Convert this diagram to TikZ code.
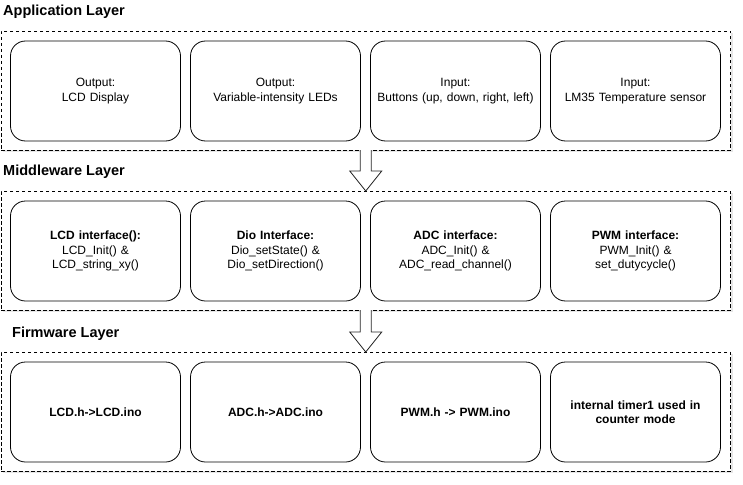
\documentclass[tikz,border=0pt]{standalone}
\usepackage{fontspec}
\setmainfont{Liberation Sans}
\usetikzlibrary{calc,shadows}
\begin{document}
\begin{tikzpicture}[x=1pt,y=-1pt,
  layer/.style={draw=black, dash pattern=on 3.5pt off 2.5pt, line width=0.8pt, fill=white,
    inner sep=0pt, outer sep=0pt, anchor=north west, minimum width=729.5pt, minimum height=119pt,
    drop shadow={shadow xshift=2pt, shadow yshift=-2pt, opacity=0.2}},
  box/.style={draw=black, line width=0.8pt, rounded corners=15pt, fill=white, anchor=north west,
    minimum width=170pt, minimum height=100pt, inner sep=2pt, outer sep=0pt, align=center,
    text width=164pt, font=\fontsize{12}{14.4}\selectfont},
  title/.style={anchor=base west, inner sep=0pt, font=\fontsize{14.5}{17}\selectfont\bfseries},
  arrowfill/.style={fill=white},
  arrowline/.style={draw=black!85, line width=0.8pt, line join=miter}
]
\useasboundingbox (0,0) rectangle (743,484);

% layer containers
\node[layer] (app) at (1,31) {};
\node[layer] (mid) at (1,191) {};
\node[layer] (fw) at (1,352) {};

% titles
\node[title] (tapp) at (3,15.5) {Application Layer};
\node[title] (tmid) at (3,175.5) {Middleware Layer};
\node[title] (tfw) at (12,337.5) {Firmware Layer};

% application boxes
\node[box] (a1) at (10.5,41) {Output:\\LCD Display};
\node[box] (a2) at (190.5,41) {Output:\\Variable-intensity LEDs};
\node[box] (a3) at (370.5,41) {Input:\\Buttons (up, down, right, left)};
\node[box] (a4) at (550.5,41) {Input:\\LM35 Temperature sensor};

% middleware boxes
\node[box] (m1) at (10.5,201) {\textbf{LCD interface():}\\LCD\_Init() \&\\LCD\_string\_xy()};
\node[box] (m2) at (190.5,201) {\textbf{Dio Interface:}\\Dio\_setState() \&\\Dio\_setDirection()};
\node[box] (m3) at (370.5,201) {\textbf{ADC interface:}\\ADC\_Init() \&\\ADC\_read\_channel()};
\node[box] (m4) at (550.5,201) {\textbf{PWM interface:}\\PWM\_Init() \&\\set\_dutycycle()};

% firmware boxes
\node[box,font=\fontsize{12}{14.4}\selectfont\bfseries] (f1) at (10.5,362) {LCD.h->LCD.ino};
\node[box,font=\fontsize{12}{14.4}\selectfont\bfseries] (f2) at (190.5,362) {ADC.h->ADC.ino};
\node[box,font=\fontsize{12}{14.4}\selectfont\bfseries] (f3) at (370.5,362) {PWM.h -> PWM.ino};
\node[box,font=\fontsize{12}{14.4}\selectfont\bfseries] (f4) at (550.5,362) {internal timer1 used in\\counter mode};

% block arrows between layers
\fill[arrowfill] ($(app.south)+(-5.5,0)$) -- ($(app.south)+(5.5,0)$) -- ($(mid.north)+(5.5,-20)$)
  -- ($(mid.north)+(16,-20)$) -- (mid.north) -- ($(mid.north)+(-16,-20)$) -- ($(mid.north)+(-5.5,-20)$) -- cycle;
\draw[arrowline] ($(app.south)+(5.5,0)$) -- ($(mid.north)+(5.5,-20)$)
  -- ($(mid.north)+(16,-20)$) -- (mid.north) -- ($(mid.north)+(-16,-20)$) -- ($(mid.north)+(-5.5,-20)$)
  -- ($(app.south)+(-5.5,0)$);

\fill[arrowfill] ($(mid.south)+(-5.5,0)$) -- ($(mid.south)+(5.5,0)$) -- ($(fw.north)+(5.5,-20)$)
  -- ($(fw.north)+(16,-20)$) -- (fw.north) -- ($(fw.north)+(-16,-20)$) -- ($(fw.north)+(-5.5,-20)$) -- cycle;
\draw[arrowline] ($(mid.south)+(5.5,0)$) -- ($(fw.north)+(5.5,-20)$)
  -- ($(fw.north)+(16,-20)$) -- (fw.north) -- ($(fw.north)+(-16,-20)$) -- ($(fw.north)+(-5.5,-20)$)
  -- ($(mid.south)+(-5.5,0)$);
\end{tikzpicture}
\end{document}
